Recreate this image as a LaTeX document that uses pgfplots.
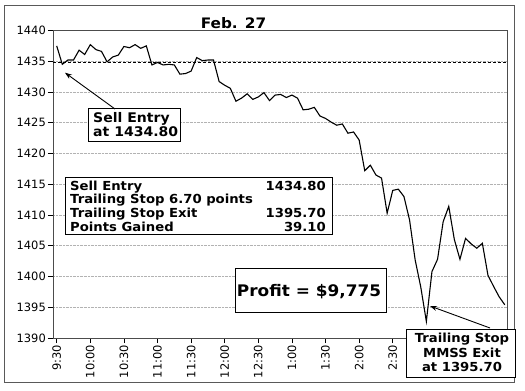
\documentclass[border=0pt]{standalone}
\usepackage{fontspec}
\setmainfont{DejaVu Sans}
\newfontfamily\bw{DejaVu Sans}[FakeStretch=1.06]
\usepackage{pgfplots}
\pgfplotsset{compat=1.18}
\usetikzlibrary{arrows.meta}
\begin{document}
\begin{tikzpicture}
\useasboundingbox (0,0) rectangle (525bp,391bp);
\fill[white] (0,0) rectangle (525bp,391bp);
\draw[black!65, line width=0.8bp] (4bp,9bp) rectangle (514bp,386bp);
\begin{axis}[
  at={(53bp,53bp)}, anchor=south west,
  scale only axis, width=454bp, height=307.5bp,
  xmin=-0.66, xmax=80.4, ymin=1390, ymax=1440,
  ytick={1390,1395,...,1440},
  xtick={0,6,...,60},
  xticklabels={9:30,10:00,10:30,11:00,11:30,12:00,12:30,1:00,1:30,2:00,2:30},
  /pgf/number format/assume math mode=true,
  /pgf/number format/1000 sep={},
  tick label style={font=\fontsize{11.5}{13}\selectfont},
  xticklabel style={rotate=90, anchor=east, inner sep=2bp},
  yticklabel style={inner sep=2bp},
  tick align=outside, major tick length=5bp,
  xtick pos=bottom, ytick pos=left,
  tick style={black, line width=0.6bp},
  ymajorgrids, major grid style={densely dotted, black!30, line width=0.6bp},
  axis line style={black!70, line width=0.8bp},
]
\addplot[black, line width=0.6bp, dash pattern=on 3bp off 2bp] coordinates {(-0.66,1434.8) (80.4,1434.8)};
\addplot[black, line width=1.1bp, no markers] coordinates {
(0,1437.5) (1,1434.5) (2,1435.2) (3,1435.2) (4,1436.8) (5,1436.1) (6,1437.7) (7,1436.9) (8,1436.6) (9,1434.9)
(10,1435.7) (11,1436.0) (12,1437.4) (13,1437.2) (14,1437.7) (15,1437.1) (16,1437.5) (17,1434.4) (18,1434.8) (19,1434.4)
(20,1434.5) (21,1434.4) (22,1432.9) (23,1433.0) (24,1433.4) (25,1435.6) (26,1435.1) (27,1435.2) (28,1435.2) (29,1431.7)
(30,1431.1) (31,1430.6) (32,1428.5) (33,1429.0) (34,1429.7) (35,1428.8) (36,1429.2) (37,1429.9) (38,1428.6) (39,1429.5)
(40,1429.6) (41,1429.1) (42,1429.5) (43,1429.0) (44,1427.1) (45,1427.2) (46,1427.5) (47,1426.1) (48,1425.7) (49,1425.1)
(50,1424.6) (51,1424.8) (52,1423.3) (53,1423.5) (54,1422.2) (55,1417.2) (56,1418.1) (57,1416.5) (58,1416.0) (59,1410.3)
(60,1414.0) (61,1414.2) (62,1413.0) (63,1409.2) (64,1402.7) (65,1398.3) (66,1392.7) (67,1400.8) (68,1402.8) (69,1408.9)
(70,1411.4) (71,1406.0) (72,1402.8) (73,1406.2) (74,1405.3) (75,1404.6) (76,1405.4) (77,1400.2) (78,1398.4) (79,1396.7)
(80,1395.4)
};
\end{axis}
% title
\node[anchor=base, inner sep=0pt, font=\bw\bfseries\fontsize{14.5}{16}\selectfont] at (233.5bp,362.7bp) {Feb. 27};
% box 1
\draw[black, line width=1bp, fill=white] (88bp,249bp) rectangle (180bp,282bp);
\node[anchor=base west, inner sep=0pt, font=\bw\bfseries\fontsize{13.3}{14}\selectfont] at (93bp,268.5bp) {Sell Entry};
\node[anchor=base west, inner sep=0pt, font=\bw\bfseries\fontsize{13.3}{14}\selectfont] at (93bp,254.5bp) {at 1434.80};
\draw[black, line width=0.9bp, -{Stealth[length=7bp,width=5bp]}] (115bp,282bp) -- (65bp,318.3bp);
% box 2
\draw[black, line width=1bp, fill=white] (65bp,156bp) rectangle (332bp,213bp);
\begin{scope}[every node/.style={inner sep=0pt, font=\bw\bfseries\fontsize{12.5}{14}\selectfont}]
\node[anchor=base west] at (70bp,200.5bp) {Sell Entry};
\node[anchor=base west] at (70bp,187.5bp) {Trailing Stop 6.70 points};
\node[anchor=base west] at (70bp,173.5bp) {Trailing Stop Exit};
\node[anchor=base west] at (70bp,159.5bp) {Points Gained};
\node[anchor=base east] at (326bp,200.5bp) {1434.80};
\node[anchor=base east] at (326bp,173.5bp) {1395.70};
\node[anchor=base east] at (326bp,159.5bp) {39.10};
\end{scope}
% profit box
\draw[black, line width=1bp, fill=white] (235bp,78bp) rectangle (386bp,122bp);
\node[anchor=base, inner sep=0pt, font=\bw\bfseries\fontsize{16}{18}\selectfont] at (309bp,94bp) {Profit = \$9,775};
% box 4
\draw[black, line width=0.9bp, -{Stealth[length=7bp,width=5bp]}] (490bp,63bp) -- (430bp,85bp);
\draw[black, line width=1bp, fill=white] (406bp,13bp) rectangle (515bp,61bp);
\begin{scope}[every node/.style={anchor=base, inner sep=0pt, font=\bw\bfseries\fontsize{12.5}{14}\selectfont}]
\node at (462bp,48.5bp) {Trailing Stop};
\node at (462bp,33.5bp) {MMSS Exit};
\node at (462bp,19.5bp) {at 1395.70};
\end{scope}
\end{tikzpicture}
\end{document}
